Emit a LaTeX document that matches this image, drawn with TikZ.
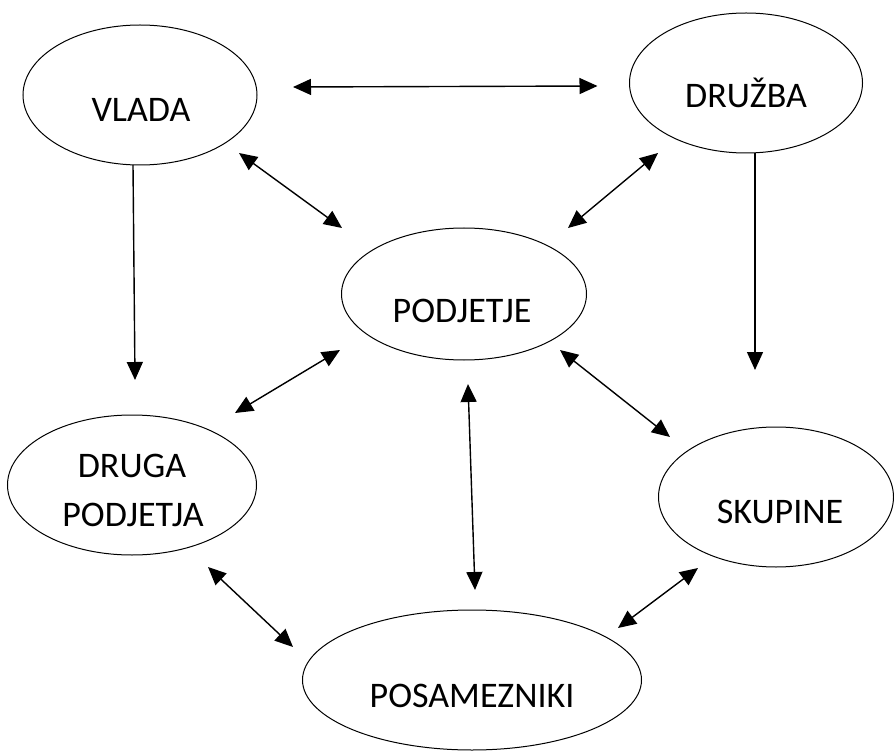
\documentclass[tikz,border=0pt]{standalone}
\usepackage{fontspec}
\setmainfont{Carlito}
\usetikzlibrary{shapes.geometric,arrows.meta}
\begin{document}
\begin{tikzpicture}[x=1pt,y=-1pt,
  oval/.style={draw, ellipse, line width=1pt, inner sep=0pt, outer sep=0pt},
  lbl/.style={anchor=base, inner sep=0pt, font=\fontsize{36}{40}\selectfont},
  tip/.style={Triangle[length=18pt,width=16pt]},
  link/.style={line width=1.4pt, -{Triangle[length=18pt,width=16pt]}},
  both/.style={line width=1.4pt, {Triangle[length=18pt,width=16pt]}-{Triangle[length=18pt,width=16pt]}}]
\useasboundingbox (0,0) rectangle (894,751);
\fill[white] (0,0) rectangle (894,751);
% ellipses
\node[oval, minimum width=234pt, minimum height=140pt] (vlada) at (140,95) {};
\node[oval, minimum width=233pt, minimum height=140pt] (druzba) at (746,83) {};
\node[oval, minimum width=245pt, minimum height=132pt] (podjetje) at (464,294) {};
\node[oval, minimum width=249pt, minimum height=140pt] (druga) at (132,485) {};
\node[oval, minimum width=235pt, minimum height=140pt] (skupine) at (776,497) {};
\node[oval, minimum width=339pt, minimum height=140pt] (posam) at (472,680) {};
% labels
\node[lbl] (vladaT) at ([xshift=1pt,yshift=-27pt]vlada.center) {VLADA};
\node[lbl] (druzbaT) at ([yshift=-25pt]druzba.center) {DRUŽBA};
\node[lbl] (podjetjeT) at ([xshift=-2pt,yshift=-29pt]podjetje.center) {PODJETJE};
\node[lbl] (drugaT) at ([yshift=8pt]druga.center) {DRUGA};
\node[lbl] (drugaT2) at ([xshift=1pt,yshift=-41pt]druga.center) {PODJETJA};
\node[lbl] (skupineT) at ([xshift=4pt,yshift=-26pt]skupine.center) {SKUPINE};
\node[lbl] (posamT) at ([yshift=-27pt]posam.center) {POSAMEZNIKI};
% connectors
\draw[both] ([xshift=36pt,yshift=8pt]vlada.east) -- ([xshift=-32pt,yshift=-3pt]druzba.west);
\draw[link] ([xshift=-7pt]vlada.south) -- ([xshift=3pt,yshift=35pt]druga.north);
\draw[both] ([xshift=99pt,yshift=-58pt]vlada.center) -- ([xshift=-122pt,yshift=66pt]podjetje.center);
\draw[both] ([xshift=-88pt,yshift=-70pt]druzba.center) -- ([xshift=104pt,yshift=66pt]podjetje.center);
\draw[link] ([xshift=9pt]druzba.south) -- ([xshift=-21pt,yshift=57pt]skupine.north);
\draw[both] ([xshift=-124pt,yshift=-56pt]podjetje.center) -- ([xshift=103pt,yshift=72pt]druga.center);
\draw[both] ([xshift=96pt,yshift=-56pt]podjetje.center) -- ([xshift=-106pt,yshift=60pt]skupine.center);
\draw[both] ([xshift=4pt,yshift=-90pt]podjetje.center) -- ([xshift=3pt,yshift=90pt]posam.center);
\draw[both] ([xshift=76pt,yshift=-82pt]druga.center) -- ([xshift=-179pt,yshift=33pt]posam.center);
\draw[both] ([xshift=-78pt,yshift=-71pt]skupine.center) -- ([xshift=146pt,yshift=52pt]posam.center);
\end{tikzpicture}
\end{document}
